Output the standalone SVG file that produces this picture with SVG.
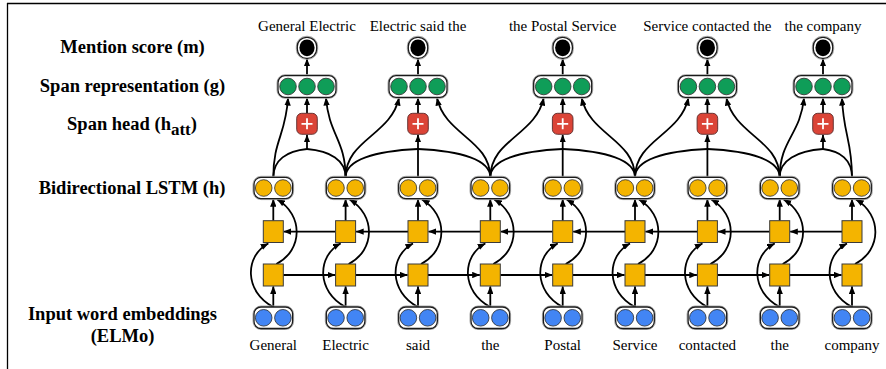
<svg xmlns="http://www.w3.org/2000/svg" width="886" height="369" viewBox="0 0 886 369">
<style>
.halo{fill:none;stroke:#a8a8a8;stroke-width:1}
.pill{fill:#fff;stroke:#1a1a1a;stroke-width:1.3}
.blue{fill:#4285F4;stroke:#2a2a2a;stroke-width:.8}
.orange{fill:#F4B400;stroke:#2a2a2a;stroke-width:.8}
.green{fill:#0F9D58;stroke:#2a2a2a;stroke-width:.8}
.box{fill:#F4B400;stroke:#3a3a3a;stroke-width:1}
.plus{fill:#DB4437;stroke:#5a2a2a;stroke-width:.9}
.cross{fill:none;stroke:#fff;stroke-width:1.8}
.dot{fill:#000}
.c{fill:none;stroke:#000;stroke-width:1.8}
.a{marker-end:url(#ah)}
.frame{stroke:#000;stroke-width:1.3}
text.lab{font-family:"Liberation Serif","Times New Roman",serif;font-weight:bold;font-size:18.5px;text-anchor:middle}
text.w{font-family:"Liberation Serif","Times New Roman",serif;font-size:15px;text-anchor:middle}
</style>
<defs>
<marker id="ah" viewBox="0 0 10 8" refX="9.5" refY="4" markerWidth="8" markerHeight="6.4" markerUnits="userSpaceOnUse" orient="auto"><path d="M0,0 L10,4 L0,8 z" fill="#000"/></marker>
</defs>
<g id="frame">
<line class="frame" x1="7" y1="3.5" x2="886" y2="3.5"/>
<line class="frame" x1="7.5" y1="3" x2="7.5" y2="369"/>
</g>
<g id="labels">
<text class="lab" x="132.5" y="52.5">Mention score (m)</text>
<text class="lab" x="132.5" y="92">Span representation (g)</text>
<text class="lab" x="132" y="130">Span head (h<tspan font-size="17" dy="5">att</tspan><tspan dy="-5">)</tspan></text>
<text class="lab" x="132" y="194">Bidirectional LSTM (h)</text>
<text class="lab" x="122.5" y="320">Input word embeddings</text>
<text class="lab" x="122.5" y="342">(ELMo)</text>
</g>
<g id="words">
<text class="w" x="273.3" y="350">General</text>
<text class="w" x="345.6" y="350">Electric</text>
<text class="w" x="418" y="350">said</text>
<text class="w" x="490.3" y="350">the</text>
<text class="w" x="562.7" y="350">Postal</text>
<text class="w" x="635" y="350">Service</text>
<text class="w" x="707.4" y="350">contacted</text>
<text class="w" x="779.7" y="350">the</text>
<text class="w" x="852" y="350">company</text>
</g>
<g id="spanlabels">
<text class="w" x="307" y="30.5">General Electric</text>
<text class="w" x="418" y="30.5">Electric said the</text>
<text class="w" x="562.7" y="30.5">the Postal Service</text>
<text class="w" x="707.4" y="30.5">Service contacted the</text>
<text class="w" x="823" y="30.5">the company</text>
</g>
<g id="connectors">
<!-- LSTM columns -->
<path class="c a" d="M273.3,307V286.5"/><path class="c a" d="M273.3,307C244.3,292 244.3,256 268.3,243.5"/><path class="c a" d="M276.3,264C303.3,250 303.3,215 277.3,199.5"/><path class="c a" d="M273.3,220.7V199.2"/>
<path class="c a" d="M345.6,307V286.5"/><path class="c a" d="M345.6,307C316.6,292 316.6,256 340.6,243.5"/><path class="c a" d="M348.6,264C375.6,250 375.6,215 349.6,199.5"/><path class="c a" d="M345.6,220.7V199.2"/>
<path class="c a" d="M418,307V286.5"/><path class="c a" d="M418,307C389,292 389,256 413,243.5"/><path class="c a" d="M421,264C448,250 448,215 422,199.5"/><path class="c a" d="M418,220.7V199.2"/>
<path class="c a" d="M490.3,307V286.5"/><path class="c a" d="M490.3,307C461.3,292 461.3,256 485.3,243.5"/><path class="c a" d="M493.3,264C520.3,250 520.3,215 494.3,199.5"/><path class="c a" d="M490.3,220.7V199.2"/>
<path class="c a" d="M562.7,307V286.5"/><path class="c a" d="M562.7,307C533.7,292 533.7,256 557.7,243.5"/><path class="c a" d="M565.7,264C592.7,250 592.7,215 566.7,199.5"/><path class="c a" d="M562.7,220.7V199.2"/>
<path class="c a" d="M635,307V286.5"/><path class="c a" d="M635,307C606,292 606,256 630,243.5"/><path class="c a" d="M638,264C665,250 665,215 639,199.5"/><path class="c a" d="M635,220.7V199.2"/>
<path class="c a" d="M707.4,307V286.5"/><path class="c a" d="M707.4,307C678.4,292 678.4,256 702.4,243.5"/><path class="c a" d="M710.4,264C737.4,250 737.4,215 711.4,199.5"/><path class="c a" d="M707.4,220.7V199.2"/>
<path class="c a" d="M779.7,307V286.5"/><path class="c a" d="M779.7,307C750.7,292 750.7,256 774.7,243.5"/><path class="c a" d="M782.7,264C809.7,250 809.7,215 783.7,199.5"/><path class="c a" d="M779.7,220.7V199.2"/>
<path class="c a" d="M852,307V286.5"/><path class="c a" d="M852,307C823,292 823,256 847,243.5"/><path class="c a" d="M855,264C882,250 882,215 856,199.5"/><path class="c a" d="M852,220.7V199.2"/>
<!-- forward row -->
<path class="c a" d="M283.3,275H335.1"/><path class="c a" d="M355.6,275H407.5"/><path class="c a" d="M428,275H479.8"/><path class="c a" d="M500.3,275H552.2"/>
<path class="c a" d="M572.7,275H624.5"/><path class="c a" d="M645,275H696.9"/><path class="c a" d="M717.4,275H769.2"/><path class="c a" d="M789.7,275H841.5"/>
<!-- backward row -->
<path class="c a" d="M335.6,231.6H283.8"/><path class="c a" d="M408,231.6H356.1"/><path class="c a" d="M480.3,231.6H428.5"/><path class="c a" d="M552.7,231.6H500.8"/>
<path class="c a" d="M625,231.6H573.2"/><path class="c a" d="M697.4,231.6H645.5"/><path class="c a" d="M769.7,231.6H717.9"/><path class="c a" d="M842,231.6H790.2"/>
<!-- span endpoints to span representation -->
<path class="c a" d="M273.3,177.3C273.3,140 285.8,135 288,98"/>
<path class="c a" d="M345.6,177.3C345.6,140 328.9,135 326,98"/>
<path class="c a" d="M345.6,177.3C345.6,140 391,135 399,98"/>
<path class="c a" d="M490.3,177.3C490.3,140 445,135 437,98"/>
<path class="c a" d="M490.3,177.3C490.3,140 535.7,135 543.7,98"/>
<path class="c a" d="M635,177.3C635,140 589.7,135 581.7,98"/>
<path class="c a" d="M635,177.3C635,140 680.4,135 688.4,98"/>
<path class="c a" d="M779.7,177.3C779.7,140 734.4,135 726.4,98"/>
<path class="c a" d="M779.7,177.3C779.7,140 800.4,135 804,98"/>
<path class="c a" d="M852,177.3C852,140 843.5,135 842,98"/>
<!-- tokens to span head -->
<path class="c" d="M273.3,177.3C273.3,160 286.8,151 307,149"/>
<path class="c" d="M345.6,177.3C345.6,160 330.2,151 307,149"/>
<path class="c" d="M345.6,177.3C345.6,160 374.6,151 418,149"/>
<path class="c" d="M490.3,177.3C490.3,160 461.4,151 418,149"/>
<path class="c" d="M490.3,177.3C490.3,160 519.3,151 562.7,149"/>
<path class="c" d="M635,177.3C635,160 606.1,151 562.7,149"/>
<path class="c" d="M635,177.3C635,160 664,151 707.4,149"/>
<path class="c" d="M779.7,177.3C779.7,160 750.8,151 707.4,149"/>
<path class="c" d="M779.7,177.3C779.7,160 797,151 823,149"/>
<path class="c" d="M852,177.3C852,160 840.4,151 823,149"/>
<path class="c a" d="M307,149.5V134.8"/>
<path class="c a" d="M418,177.3V134.8"/>
<path class="c a" d="M562.7,177.3V134.8"/>
<path class="c a" d="M707.4,177.3V134.8"/>
<path class="c a" d="M823,149.5V134.8"/>
<!-- head to representation, representation to score -->
<path class="c a" d="M307,113.3V97.8"/><path class="c a" d="M418,113.3V97.8"/><path class="c a" d="M562.7,113.3V97.8"/><path class="c a" d="M707.4,113.3V97.8"/><path class="c a" d="M823,113.3V97.8"/>
<path class="c a" d="M307,75.7V58.8"/><path class="c a" d="M418,75.7V58.8"/><path class="c a" d="M562.7,75.7V58.8"/><path class="c a" d="M707.4,75.7V58.8"/><path class="c a" d="M823,75.7V58.8"/>
</g>
<!-- embedding nodes -->
<g id="emb0"><rect class="halo" x="253" y="306" width="40.6" height="23.5" rx="8"/><rect class="pill" x="254" y="307" width="38.6" height="21.5" rx="7"/><circle class="blue" cx="263.7" cy="317.8" r="8.3"/><circle class="blue" cx="282.9" cy="317.8" r="8.3"/></g>
<g id="emb1"><rect class="halo" x="325.3" y="306" width="40.6" height="23.5" rx="8"/><rect class="pill" x="326.3" y="307" width="38.6" height="21.5" rx="7"/><circle class="blue" cx="336" cy="317.8" r="8.3"/><circle class="blue" cx="355.2" cy="317.8" r="8.3"/></g>
<g id="emb2"><rect class="halo" x="397.7" y="306" width="40.6" height="23.5" rx="8"/><rect class="pill" x="398.7" y="307" width="38.6" height="21.5" rx="7"/><circle class="blue" cx="408.4" cy="317.8" r="8.3"/><circle class="blue" cx="427.6" cy="317.8" r="8.3"/></g>
<g id="emb3"><rect class="halo" x="470" y="306" width="40.6" height="23.5" rx="8"/><rect class="pill" x="471" y="307" width="38.6" height="21.5" rx="7"/><circle class="blue" cx="480.7" cy="317.8" r="8.3"/><circle class="blue" cx="499.9" cy="317.8" r="8.3"/></g>
<g id="emb4"><rect class="halo" x="542.4" y="306" width="40.6" height="23.5" rx="8"/><rect class="pill" x="543.4" y="307" width="38.6" height="21.5" rx="7"/><circle class="blue" cx="553.1" cy="317.8" r="8.3"/><circle class="blue" cx="572.3" cy="317.8" r="8.3"/></g>
<g id="emb5"><rect class="halo" x="614.7" y="306" width="40.6" height="23.5" rx="8"/><rect class="pill" x="615.7" y="307" width="38.6" height="21.5" rx="7"/><circle class="blue" cx="625.4" cy="317.8" r="8.3"/><circle class="blue" cx="644.6" cy="317.8" r="8.3"/></g>
<g id="emb6"><rect class="halo" x="687.1" y="306" width="40.6" height="23.5" rx="8"/><rect class="pill" x="688.1" y="307" width="38.6" height="21.5" rx="7"/><circle class="blue" cx="697.8" cy="317.8" r="8.3"/><circle class="blue" cx="717" cy="317.8" r="8.3"/></g>
<g id="emb7"><rect class="halo" x="759.4" y="306" width="40.6" height="23.5" rx="8"/><rect class="pill" x="760.4" y="307" width="38.6" height="21.5" rx="7"/><circle class="blue" cx="770.1" cy="317.8" r="8.3"/><circle class="blue" cx="789.3" cy="317.8" r="8.3"/></g>
<g id="emb8"><rect class="halo" x="831.7" y="306" width="40.6" height="23.5" rx="8"/><rect class="pill" x="832.7" y="307" width="38.6" height="21.5" rx="7"/><circle class="blue" cx="842.4" cy="317.8" r="8.3"/><circle class="blue" cx="861.6" cy="317.8" r="8.3"/></g>
<!-- LSTM cells -->
<g id="fwd0"><rect class="box" x="263.3" y="264" width="20" height="22"/></g>
<g id="fwd1"><rect class="box" x="335.6" y="264" width="20" height="22"/></g>
<g id="fwd2"><rect class="box" x="408" y="264" width="20" height="22"/></g>
<g id="fwd3"><rect class="box" x="480.3" y="264" width="20" height="22"/></g>
<g id="fwd4"><rect class="box" x="552.7" y="264" width="20" height="22"/></g>
<g id="fwd5"><rect class="box" x="625" y="264" width="20" height="22"/></g>
<g id="fwd6"><rect class="box" x="697.4" y="264" width="20" height="22"/></g>
<g id="fwd7"><rect class="box" x="769.7" y="264" width="20" height="22"/></g>
<g id="fwd8"><rect class="box" x="842" y="264" width="20" height="22"/></g>
<g id="bwd0"><rect class="box" x="263.3" y="220.7" width="20" height="21.8"/></g>
<g id="bwd1"><rect class="box" x="335.6" y="220.7" width="20" height="21.8"/></g>
<g id="bwd2"><rect class="box" x="408" y="220.7" width="20" height="21.8"/></g>
<g id="bwd3"><rect class="box" x="480.3" y="220.7" width="20" height="21.8"/></g>
<g id="bwd4"><rect class="box" x="552.7" y="220.7" width="20" height="21.8"/></g>
<g id="bwd5"><rect class="box" x="625" y="220.7" width="20" height="21.8"/></g>
<g id="bwd6"><rect class="box" x="697.4" y="220.7" width="20" height="21.8"/></g>
<g id="bwd7"><rect class="box" x="769.7" y="220.7" width="20" height="21.8"/></g>
<g id="bwd8"><rect class="box" x="842" y="220.7" width="20" height="21.8"/></g>
<!-- BiLSTM outputs -->
<g id="h0"><rect class="halo" x="253" y="176.3" width="40.6" height="23.3" rx="8"/><rect class="pill" x="254" y="177.3" width="38.6" height="21.3" rx="7"/><circle class="orange" cx="263.7" cy="188" r="8.3"/><circle class="orange" cx="282.9" cy="188" r="8.3"/></g>
<g id="h1"><rect class="halo" x="325.3" y="176.3" width="40.6" height="23.3" rx="8"/><rect class="pill" x="326.3" y="177.3" width="38.6" height="21.3" rx="7"/><circle class="orange" cx="336" cy="188" r="8.3"/><circle class="orange" cx="355.2" cy="188" r="8.3"/></g>
<g id="h2"><rect class="halo" x="397.7" y="176.3" width="40.6" height="23.3" rx="8"/><rect class="pill" x="398.7" y="177.3" width="38.6" height="21.3" rx="7"/><circle class="orange" cx="408.4" cy="188" r="8.3"/><circle class="orange" cx="427.6" cy="188" r="8.3"/></g>
<g id="h3"><rect class="halo" x="470" y="176.3" width="40.6" height="23.3" rx="8"/><rect class="pill" x="471" y="177.3" width="38.6" height="21.3" rx="7"/><circle class="orange" cx="480.7" cy="188" r="8.3"/><circle class="orange" cx="499.9" cy="188" r="8.3"/></g>
<g id="h4"><rect class="halo" x="542.4" y="176.3" width="40.6" height="23.3" rx="8"/><rect class="pill" x="543.4" y="177.3" width="38.6" height="21.3" rx="7"/><circle class="orange" cx="553.1" cy="188" r="8.3"/><circle class="orange" cx="572.3" cy="188" r="8.3"/></g>
<g id="h5"><rect class="halo" x="614.7" y="176.3" width="40.6" height="23.3" rx="8"/><rect class="pill" x="615.7" y="177.3" width="38.6" height="21.3" rx="7"/><circle class="orange" cx="625.4" cy="188" r="8.3"/><circle class="orange" cx="644.6" cy="188" r="8.3"/></g>
<g id="h6"><rect class="halo" x="687.1" y="176.3" width="40.6" height="23.3" rx="8"/><rect class="pill" x="688.1" y="177.3" width="38.6" height="21.3" rx="7"/><circle class="orange" cx="697.8" cy="188" r="8.3"/><circle class="orange" cx="717" cy="188" r="8.3"/></g>
<g id="h7"><rect class="halo" x="759.4" y="176.3" width="40.6" height="23.3" rx="8"/><rect class="pill" x="760.4" y="177.3" width="38.6" height="21.3" rx="7"/><circle class="orange" cx="770.1" cy="188" r="8.3"/><circle class="orange" cx="789.3" cy="188" r="8.3"/></g>
<g id="h8"><rect class="halo" x="831.7" y="176.3" width="40.6" height="23.3" rx="8"/><rect class="pill" x="832.7" y="177.3" width="38.6" height="21.3" rx="7"/><circle class="orange" cx="842.4" cy="188" r="8.3"/><circle class="orange" cx="861.6" cy="188" r="8.3"/></g>
<!-- span heads -->
<g id="head1"><rect class="plus" x="296.7" y="113.3" width="20.6" height="21" rx="5"/><path class="cross" d="M301.5,123.8H312.5M307,118.3V129.3"/></g>
<g id="head2"><rect class="plus" x="407.7" y="113.3" width="20.6" height="21" rx="5"/><path class="cross" d="M412.5,123.8H423.5M418,118.3V129.3"/></g>
<g id="head3"><rect class="plus" x="552.4" y="113.3" width="20.6" height="21" rx="5"/><path class="cross" d="M557.2,123.8H568.2M562.7,118.3V129.3"/></g>
<g id="head4"><rect class="plus" x="697.1" y="113.3" width="20.6" height="21" rx="5"/><path class="cross" d="M701.9,123.8H712.9M707.4,118.3V129.3"/></g>
<g id="head5"><rect class="plus" x="812.7" y="113.3" width="20.6" height="21" rx="5"/><path class="cross" d="M817.5,123.8H828.5M823,118.3V129.3"/></g>
<!-- span representations -->
<g id="span1"><rect class="halo" x="277" y="74.7" width="60" height="23.6" rx="8"/><rect class="pill" x="278" y="75.7" width="58" height="21.6" rx="7"/><circle class="green" cx="288" cy="86.5" r="8.3"/><circle class="green" cx="307" cy="86.5" r="8.3"/><circle class="green" cx="326" cy="86.5" r="8.3"/></g>
<g id="span2"><rect class="halo" x="388" y="74.7" width="60" height="23.6" rx="8"/><rect class="pill" x="389" y="75.7" width="58" height="21.6" rx="7"/><circle class="green" cx="399" cy="86.5" r="8.3"/><circle class="green" cx="418" cy="86.5" r="8.3"/><circle class="green" cx="437" cy="86.5" r="8.3"/></g>
<g id="span3"><rect class="halo" x="532.7" y="74.7" width="60" height="23.6" rx="8"/><rect class="pill" x="533.7" y="75.7" width="58" height="21.6" rx="7"/><circle class="green" cx="543.7" cy="86.5" r="8.3"/><circle class="green" cx="562.7" cy="86.5" r="8.3"/><circle class="green" cx="581.7" cy="86.5" r="8.3"/></g>
<g id="span4"><rect class="halo" x="677.4" y="74.7" width="60" height="23.6" rx="8"/><rect class="pill" x="678.4" y="75.7" width="58" height="21.6" rx="7"/><circle class="green" cx="688.4" cy="86.5" r="8.3"/><circle class="green" cx="707.4" cy="86.5" r="8.3"/><circle class="green" cx="726.4" cy="86.5" r="8.3"/></g>
<g id="span5"><rect class="halo" x="793" y="74.7" width="60" height="23.6" rx="8"/><rect class="pill" x="794" y="75.7" width="58" height="21.6" rx="7"/><circle class="green" cx="804" cy="86.5" r="8.3"/><circle class="green" cx="823" cy="86.5" r="8.3"/><circle class="green" cx="842" cy="86.5" r="8.3"/></g>
<!-- mention scores -->
<g id="score1"><rect class="halo" x="296.3" y="36.3" width="21.4" height="23" rx="10"/><rect class="pill" x="297.3" y="37.3" width="19.4" height="21" rx="9.2"/><ellipse class="dot" cx="307" cy="47.8" rx="7.6" ry="8.4"/></g>
<g id="score2"><rect class="halo" x="407.3" y="36.3" width="21.4" height="23" rx="10"/><rect class="pill" x="408.3" y="37.3" width="19.4" height="21" rx="9.2"/><ellipse class="dot" cx="418" cy="47.8" rx="7.6" ry="8.4"/></g>
<g id="score3"><rect class="halo" x="552" y="36.3" width="21.4" height="23" rx="10"/><rect class="pill" x="553" y="37.3" width="19.4" height="21" rx="9.2"/><ellipse class="dot" cx="562.7" cy="47.8" rx="7.6" ry="8.4"/></g>
<g id="score4"><rect class="halo" x="696.7" y="36.3" width="21.4" height="23" rx="10"/><rect class="pill" x="697.7" y="37.3" width="19.4" height="21" rx="9.2"/><ellipse class="dot" cx="707.4" cy="47.8" rx="7.6" ry="8.4"/></g>
<g id="score5"><rect class="halo" x="812.3" y="36.3" width="21.4" height="23" rx="10"/><rect class="pill" x="813.3" y="37.3" width="19.4" height="21" rx="9.2"/><ellipse class="dot" cx="823" cy="47.8" rx="7.6" ry="8.4"/></g>
</svg>
